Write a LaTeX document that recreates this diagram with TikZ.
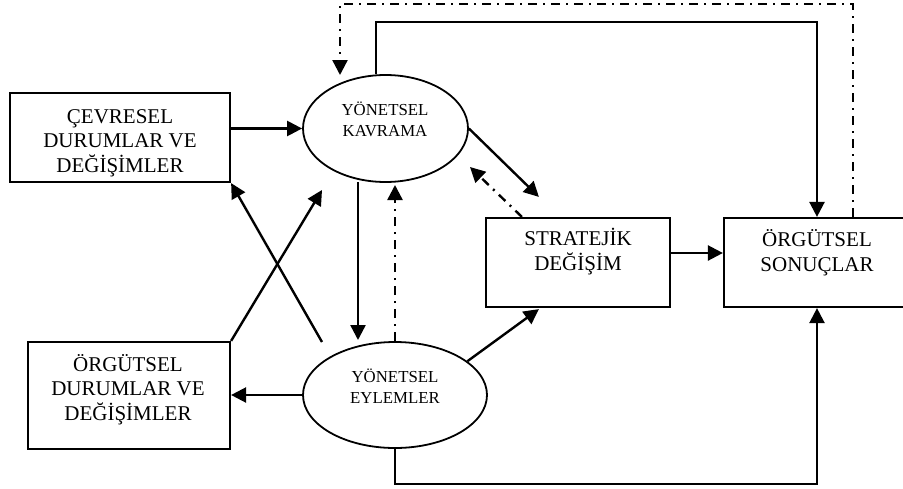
\documentclass[tikz,border=0pt]{standalone}
\usepackage{fontspec}
\setmainfont{Liberation Serif}
\usetikzlibrary{shapes.geometric,arrows.meta,calc}

\tikzset{
  box/.style={draw, rectangle, line width=2.2pt, inner sep=0pt},
  oval/.style={draw, ellipse, line width=1.8pt, inner sep=0pt},
  boxtext/.style={font=\fontsize{21}{24.5}\selectfont, align=center, anchor=base, inner sep=0pt},
  ovaltext/.style={font=\fontsize{16.8}{21}\selectfont, align=center, anchor=base, inner sep=0pt},
  link/.style={line width=2.4pt, -{Triangle[length=15pt,width=15pt]}},
  feedback/.style={link, dash pattern=on 9pt off 6pt on 2pt off 6pt},
}

\begin{document}
\begin{tikzpicture}[x=1pt,y=-1pt]
  \useasboundingbox (0,0) rectangle (903,488);

  % boxes
  \node[box, minimum width=220pt, minimum height=89pt] (cevre) at (120,137.5) {};
  \node[box, minimum width=202pt, minimum height=107pt] (orgdur) at (129,395.5) {};
  \node[box, minimum width=184pt, minimum height=89pt] (strat) at (578,262.5) {};
  \node[box, minimum width=186pt, minimum height=89pt] (sonuc) at (817,262.5) {};

  % ellipses
  \node[oval, minimum width=165pt, minimum height=107pt] (kavrama) at (385.5,128.5) {};
  \node[oval, minimum width=184pt, minimum height=106pt] (eylem) at (395,395) {};

  % labels (anchored at the baseline of the last line)
  \node[boxtext] (cevreT) at (120,172) {ÇEVRESEL\\DURUMLAR VE\\DEĞİŞİMLER};
  \node[boxtext] (orgdurT) at (128,420) {ÖRGÜTSEL\\DURUMLAR VE\\DEĞİŞİMLER};
  \node[boxtext] (stratT) at (578,270) {STRATEJİK\\DEĞİŞİM};
  \node[boxtext] (sonucT) at (817,271) {ÖRGÜTSEL\\SONUÇLAR};
  \node[ovaltext] (kavramaT) at (385,136) {YÖNETSEL\\KAVRAMA};
  \node[ovaltext] (eylemT) at (395,403) {YÖNETSEL\\EYLEMLER};

  % helper corners of the outer loops
  \coordinate (topR) at (817,22);
  \coordinate (dashTop) at (853,4);
  \coordinate (botR) at (817,484);

  % environment -> perception
  \draw[link] (cevre.east |- kavrama.west) -- (kavrama.west);

  % perception -> organisational outcomes (top loop)
  \draw[link] (kavrama.100) |- (topR) -- (sonuc.north);

  % outcomes feed back to perception
  \draw[feedback] (sonuc.north -| dashTop) -- (dashTop) -| ($(kavrama.center)+(-45.5,-53.5)$);

  % perception -> strategic change
  \draw[link] (kavrama.east) -- ($(strat.north west)+(54,-20)$);

  % strategic change feeds back to perception
  \draw[feedback] ($(strat.north west)+(37,0)$) -- ($(kavrama.center)+(84.5,38.5)$);

  % perception -> actions
  \draw[link] ($(kavrama.center)+(-27.5,53.5)$) -- ($(eylem.center)+(-37,-55)$);

  % actions feed back to perception
  \draw[feedback] (eylem.north) -- ($(kavrama.center)+(9.5,56.5)$);

  % crossing links
  \draw[link] ($(eylem.center)+(-73,-53)$) -- (cevre.south east);
  \draw[link] (orgdur.north east) -- ($(kavrama.center)+(-63.5,61.5)$);

  % actions -> organisational conditions
  \draw[link] (eylem.west) -- (orgdur.east |- eylem.west);

  % actions -> strategic change
  \draw[link] (eylem.25) -- ($(strat.south west)+(54,1)$);

  % strategic change -> outcomes
  \draw[link] (strat.east |- 0,253) -- (sonuc.west |- 0,253);

  % actions -> outcomes (bottom loop)
  \draw[link] (eylem.south) |- (botR) -- (sonuc.south);
\end{tikzpicture}
\end{document}
